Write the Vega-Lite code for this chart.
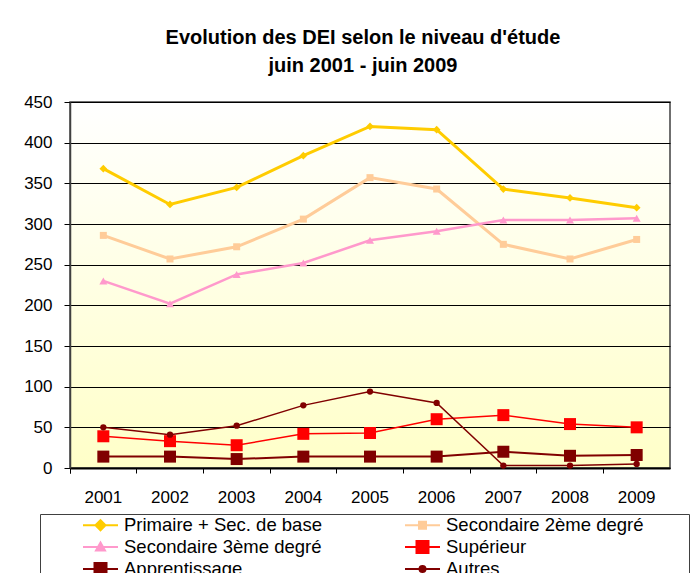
{
  "$schema": "https://vega.github.io/schema/vega-lite/v6.json",
  "autosize": {"type": "none"},
  "padding": {"left": 70, "top": 102, "right": 23, "bottom": 105},
  "width": 600,
  "height": 366,
  "background": "white",
  "title": {
    "text": ["Evolution des DEI selon le niveau d'étude", "juin 2001 - juin 2009"],
    "font": "Liberation Sans",
    "fontSize": 20,
    "fontWeight": "bold",
    "lineHeight": 28,
    "color": "black",
    "anchor": "middle",
    "dx": -7,
    "offset": 17
  },
  "config": {
    "font": "Liberation Sans",
    "view": {
      "stroke": "#404040",
      "strokeWidth": 1.5,
      "fill": {
        "gradient": "linear",
        "x1": 0, "y1": 0, "x2": 0, "y2": 1,
        "stops": [
          {"offset": 0, "color": "#FFFFFF"},
          {"offset": 1, "color": "#FFFFC8"}
        ]
      }
    }
  },
  "data": {
    "values": [
      {"year": "2001", "serie": "Primaire + Sec. de base", "value": 368},
      {"year": "2002", "serie": "Primaire + Sec. de base", "value": 324},
      {"year": "2003", "serie": "Primaire + Sec. de base", "value": 345},
      {"year": "2004", "serie": "Primaire + Sec. de base", "value": 384},
      {"year": "2005", "serie": "Primaire + Sec. de base", "value": 420},
      {"year": "2006", "serie": "Primaire + Sec. de base", "value": 416},
      {"year": "2007", "serie": "Primaire + Sec. de base", "value": 343},
      {"year": "2008", "serie": "Primaire + Sec. de base", "value": 332},
      {"year": "2009", "serie": "Primaire + Sec. de base", "value": 320},
      {"year": "2001", "serie": "Secondaire 2ème degré", "value": 286},
      {"year": "2002", "serie": "Secondaire 2ème degré", "value": 257},
      {"year": "2003", "serie": "Secondaire 2ème degré", "value": 272},
      {"year": "2004", "serie": "Secondaire 2ème degré", "value": 306},
      {"year": "2005", "serie": "Secondaire 2ème degré", "value": 357},
      {"year": "2006", "serie": "Secondaire 2ème degré", "value": 343},
      {"year": "2007", "serie": "Secondaire 2ème degré", "value": 275},
      {"year": "2008", "serie": "Secondaire 2ème degré", "value": 257},
      {"year": "2009", "serie": "Secondaire 2ème degré", "value": 281},
      {"year": "2001", "serie": "Secondaire 3ème degré", "value": 230},
      {"year": "2002", "serie": "Secondaire 3ème degré", "value": 202},
      {"year": "2003", "serie": "Secondaire 3ème degré", "value": 238},
      {"year": "2004", "serie": "Secondaire 3ème degré", "value": 252},
      {"year": "2005", "serie": "Secondaire 3ème degré", "value": 280},
      {"year": "2006", "serie": "Secondaire 3ème degré", "value": 291},
      {"year": "2007", "serie": "Secondaire 3ème degré", "value": 305},
      {"year": "2008", "serie": "Secondaire 3ème degré", "value": 305},
      {"year": "2009", "serie": "Secondaire 3ème degré", "value": 307},
      {"year": "2001", "serie": "Supérieur", "value": 39},
      {"year": "2002", "serie": "Supérieur", "value": 33},
      {"year": "2003", "serie": "Supérieur", "value": 28},
      {"year": "2004", "serie": "Supérieur", "value": 42},
      {"year": "2005", "serie": "Supérieur", "value": 43},
      {"year": "2006", "serie": "Supérieur", "value": 60},
      {"year": "2007", "serie": "Supérieur", "value": 65},
      {"year": "2008", "serie": "Supérieur", "value": 54},
      {"year": "2009", "serie": "Supérieur", "value": 50},
      {"year": "2001", "serie": "Apprentissage", "value": 14},
      {"year": "2002", "serie": "Apprentissage", "value": 14},
      {"year": "2003", "serie": "Apprentissage", "value": 11},
      {"year": "2004", "serie": "Apprentissage", "value": 14},
      {"year": "2005", "serie": "Apprentissage", "value": 14},
      {"year": "2006", "serie": "Apprentissage", "value": 14},
      {"year": "2007", "serie": "Apprentissage", "value": 20},
      {"year": "2008", "serie": "Apprentissage", "value": 15},
      {"year": "2009", "serie": "Apprentissage", "value": 16},
      {"year": "2001", "serie": "Autres", "value": 50},
      {"year": "2002", "serie": "Autres", "value": 41},
      {"year": "2003", "serie": "Autres", "value": 52},
      {"year": "2004", "serie": "Autres", "value": 77},
      {"year": "2005", "serie": "Autres", "value": 94},
      {"year": "2006", "serie": "Autres", "value": 80},
      {"year": "2007", "serie": "Autres", "value": 3},
      {"year": "2008", "serie": "Autres", "value": 3},
      {"year": "2009", "serie": "Autres", "value": 5}
    ]
  },
  "encoding": {
    "x": {
      "field": "year",
      "type": "ordinal",
      "title": null,
      "scale": {"type": "band", "paddingInner": 0, "paddingOuter": 0},
      "axis": {
        "bandPosition": 0,
        "tickExtra": true,
        "labelAngle": 0,
        "labelFontSize": 17,
        "labelColor": "black",
        "labelPadding": 16,
        "tickSize": 5,
        "tickColor": "black",
        "tickWidth": 1,
        "domainColor": "black",
        "domainWidth": 2,
        "grid": false
      }
    },
    "y": {
      "field": "value",
      "type": "quantitative",
      "title": null,
      "scale": {"domain": [0, 450], "nice": false},
      "axis": {
        "values": [0, 50, 100, 150, 200, 250, 300, 350, 400, 450],
        "labelFontSize": 17,
        "labelColor": "black",
        "labelPadding": 12,
        "tickSize": 6,
        "tickColor": "black",
        "domainColor": "#404040",
        "domainWidth": 1.5,
        "grid": true,
        "gridColor": "black",
        "gridWidth": 1,
        "gridOpacity": 1
      }
    },
    "color": {
      "field": "serie",
      "type": "nominal",
      "scale": {
        "domain": ["Primaire + Sec. de base", "Secondaire 2ème degré", "Secondaire 3ème degré", "Supérieur", "Apprentissage", "Autres"],
        "range": ["#FFCC00", "#FFCC99", "#FF99CC", "#FF0000", "#800000", "#800000"]
      },
      "legend": {
        "orient": "none",
        "legendX": -30,
        "legendY": 412,
        "direction": "horizontal",
        "columns": 2,
        "columnPadding": 36,
        "rowPadding": 1,
        "padding": 0,
        "strokeColor": "#404040",
        "fillColor": "white",
        "title": null,
        "labelFont": "Liberation Sans",
        "labelFontSize": 18.5,
        "labelColor": "black",
        "labelOffset": 62,
        "labelLimit": 0,
        "symbolSize": 400,
        "symbolStrokeWidth": 2,
        "encode": {
          "symbols": {
            "update": {
              "shape": {"signal": "datum.value === 'Primaire + Sec. de base' ? 'M-1.1,0M3.2,0H6.7M4.45,0L4.95,-0.5L5.45,0L4.95,0.5Z' : datum.value === 'Secondaire 2ème degré' ? 'M-1.1,0M31.2,0M3.2,0H6.7M4.6,-0.35H5.3V0.35H4.6Z' : datum.value === 'Secondaire 3ème degré' ? 'M-1.1,0M3.2,0H6.7M4.95,-0.45L5.4,0.35H4.5Z' : datum.value === 'Supérieur' ? 'M-1.1,0M31.2,0M3.2,0H6.7M4.35,-0.6H5.55V0.6H4.35Z' : datum.value === 'Apprentissage' ? 'M-1.1,0M3.2,0H6.7M4.35,-0.6H5.55V0.6H4.35Z' : 'M-1.1,0M31.2,0M3.2,0H6.7M4.65,0A0.3,0.3 0 1,0 5.25,0A0.3,0.3 0 1,0 4.65,0Z'"},
              "strokeWidth": {"value": 2},
              "size": {"value": 400},
              "opacity": {"value": 1}
            }
          }
        }
      }
    }
  },
  "layer": [
    {
      "mark": {"type": "line"},
      "encoding": {
        "strokeWidth": {
          "field": "serie",
          "type": "nominal",
          "legend": null,
          "scale": {
            "type": "ordinal",
            "range": [2, 1.5, 3, 3, 2.5, 1.5]
          }
        }
      }
    },
    {
      "mark": {"type": "point", "filled": true, "opacity": 1},
      "encoding": {
        "shape": {
          "field": "serie",
          "type": "nominal",
          "legend": null,
          "scale": {
            "range": ["square", "circle", "diamond", "square", "triangle-up", "square"]
          }
        },
        "size": {
          "field": "serie",
          "type": "nominal",
          "legend": null,
          "scale": {
            "type": "ordinal",
            "range": [144, 40, 60, 49, 64, 144]
          }
        }
      }
    }
  ]
}
